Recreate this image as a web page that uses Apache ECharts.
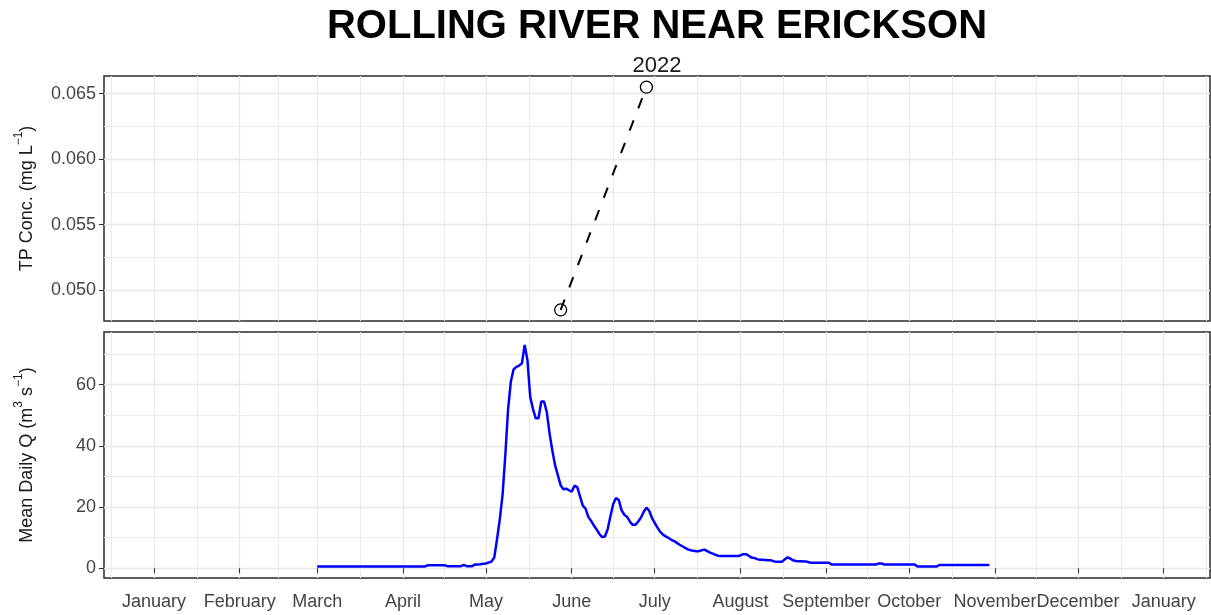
<!DOCTYPE html>
<html>
<head>
<meta charset="utf-8">
<script src="https://cdn.jsdelivr.net/npm/echarts@6/dist/echarts.min.js"></script>
<style>
  html, body { margin: 0; padding: 0; background: #fff; }
  #chart { width: 1211px; height: 615px; }
</style>
</head>
<body>
<div id="chart"></div>
<script>
// x axis: month ticks and their labels
const monthTicks = ['2022-01-01', '2022-02-01', '2022-03-01', '2022-04-01', '2022-05-01', '2022-06-01',
  '2022-07-01', '2022-08-01', '2022-09-01', '2022-10-01', '2022-11-01', '2022-12-01', '2023-01-01']
const monthLabels = ['January', 'February', 'March', 'April', 'May', 'June',
  'July', 'August', 'September', 'October', 'November', 'December', 'January']

// top panel: TP samples
const tpDates = ['2022-05-28', '2022-06-28']
const tpValues = [0.0485, 0.0655]
const tpTicks = [0.050, 0.055, 0.060, 0.065]
const tpMinor = [0.0525, 0.0575, 0.0625]

// bottom panel: mean daily discharge, one value per day from flowStart
const flowStart = '2022-03-01'
const flowMar = [0.6, 0.6, 0.6, 0.6, 0.6, 0.6, 0.6, 0.6, 0.6, 0.6, 0.6, 0.6, 0.6, 0.6, 0.6, 0.6,
  0.6, 0.6, 0.6, 0.6, 0.6, 0.6, 0.6, 0.6, 0.6, 0.6, 0.6, 0.6, 0.6, 0.6, 0.6]
const flowApr = [0.6, 0.6, 0.6, 0.6, 0.6, 0.6, 0.6, 0.6, 0.6, 1.0, 1.0, 1.0, 1.0, 1.0, 1.0, 1.0,
  0.7, 0.7, 0.7, 0.7, 0.7, 0.7, 1.1, 0.7, 0.7, 0.7, 1.2, 1.2, 1.3, 1.5]
const flowMay = [1.6, 1.9, 2.2, 3.5, 9.5, 16, 24, 37, 52, 61, 65, 65.8, 66.2, 67, 73, 68,
  56, 52, 49, 49, 54.5, 54.5, 51, 44, 38.5, 33.6, 30.4, 27.1, 25.8, 26, 25.5]
const flowJun = [25, 27, 26.5, 23.5, 20.5, 19.5, 16.8, 15.5, 14, 12.7, 11.2, 10.2, 10.4, 12.8, 17,
  21, 23, 22.3, 19, 17.5, 16.8, 15.3, 14.2, 14.2, 15.2, 16.5, 18.4, 19.8, 18.8, 16.5]
const flowJul = [14.8, 13.3, 11.9, 11, 10.4, 9.9, 9.3, 8.9, 8.3, 7.7, 7.2, 6.7, 6.2, 5.9, 5.7, 5.6,
  5.6, 5.9, 6.1, 5.6, 5.1, 4.8, 4.4, 4.1, 4, 4, 4, 4, 4, 4, 4]
const flowAug = [4.2, 4.6, 4.6, 4.1, 3.5, 3.4, 3, 2.8, 2.8, 2.7, 2.6, 2.6, 2.3, 2.1, 2.1, 2.1,
  2.9, 3.6, 3.2, 2.6, 2.4, 2.3, 2.3, 2.2, 2.2, 1.9, 1.8, 1.8, 1.8, 1.8, 1.8]
const flowSep = [1.8, 1.8, 1.2, 1.2, 1.2, 1.2, 1.2, 1.2, 1.2, 1.2, 1.2, 1.2, 1.2, 1.2, 1.2, 1.2,
  1.2, 1.2, 1.2, 1.6, 1.6, 1.2, 1.2, 1.2, 1.2, 1.2, 1.2, 1.2, 1.2, 1.2]
const flowOct = [1.2, 1.2, 1.2, 0.6, 0.6, 0.6, 0.6, 0.6, 0.6, 0.6, 0.6, 1.1, 1.1, 1.1, 1.1, 1.1,
  1.1, 1.1, 1.1, 1.1, 1.1, 1.1, 1.1, 1.1, 1.1, 1.1, 1.1, 1.1, 1.1, 1.1]
const flowTicks = [0, 20, 40, 60]
const flowMinor = [10, 30, 50, 70]

const DAY = 86400000
function utc (s) {
  const p = s.split('-').map(Number)
  return Date.UTC(p[0], p[1] - 1, p[2])
}

const majorX = monthTicks.map(utc)
const minorX = [majorX[0] - (majorX[1] - majorX[0]) / 2]
for (let i = 0; i < majorX.length - 1; i++) minorX.push((majorX[i] + majorX[i + 1]) / 2)
minorX.push(majorX[majorX.length - 1] + (majorX[majorX.length - 1] - majorX[majorX.length - 2]) / 2)

const xMin = majorX[0] - 18.07 * DAY
const xMax = majorX[majorX.length - 1] + 16.73 * DAY

const tpData = tpDates.map((d, i) => [utc(d), tpValues[i]])
const flowValues = [].concat(flowMar, flowApr, flowMay, flowJun, flowJul, flowAug, flowSep, flowOct)
const flowData = flowValues.map((v, i) => [utc(flowStart) + i * DAY, v])

const FONT = 'Liberation Sans, Arial, sans-serif'
const gridLine = { show: true, lineStyle: { color: '#e8e8e8', width: 1.3 } }
const gridLineMinor = { show: true, lineStyle: { color: '#ebebeb', width: 1 } }
const tickStyle = { color: '#333', width: 1.1 }
const labelStyle = { fontFamily: FONT, fontSize: 18, color: '#444' }

function monthName (val) {
  let best = 0
  majorX.forEach((t, i) => { if (Math.abs(t - val) < Math.abs(majorX[best] - val)) best = i })
  return monthLabels[best]
}

function xMajor (gridIndex, withLabels) {
  return {
    type: 'value', gridIndex, min: xMin, max: xMax, position: 'bottom',
    axisLine: { show: false },
    axisTick: { show: withLabels, length: 5, lineStyle: tickStyle, customValues: majorX },
    axisLabel: { show: withLabels, margin: 15, ...labelStyle, customValues: majorX, formatter: monthName },
    splitLine: gridLine
  }
}
function xMinor (gridIndex) {
  return {
    type: 'value', gridIndex, min: xMin, max: xMax, position: 'top',
    axisLine: { show: false },
    axisTick: { show: false, customValues: minorX },
    axisLabel: { show: false, customValues: minorX },
    splitLine: gridLineMinor
  }
}
function yMajor (gridIndex, min, max, ticks, fmt, name) {
  return {
    type: 'value', gridIndex, min, max, position: 'left',
    axisLine: { show: false },
    axisTick: { show: true, length: 5, lineStyle: tickStyle, customValues: ticks },
    axisLabel: { ...labelStyle, margin: 8, customValues: ticks, formatter: fmt },
    splitLine: gridLine,
    name,
    nameLocation: 'middle',
    nameGap: 63,
    nameTextStyle: {
      rich: {
        b: { fontFamily: FONT, fontSize: 18, color: '#1a1a1a', lineHeight: 28, verticalAlign: 'middle' },
        sup: { fontFamily: FONT, fontSize: 12, color: '#1a1a1a', lineHeight: 12, verticalAlign: 'top' }
      }
    }
  }
}
function yMinor (gridIndex, min, max, ticks) {
  return {
    type: 'value', gridIndex, min, max, position: 'right',
    axisLine: { show: false },
    axisTick: { show: false, customValues: ticks },
    axisLabel: { show: false, customValues: ticks },
    splitLine: gridLineMinor
  }
}

const option = {
  animation: false,
  backgroundColor: '#fff',
  title: [
    {
      text: 'ROLLING RIVER NEAR ERICKSON', left: 657, top: 7, padding: 0, textAlign: 'center',
      textStyle: { fontFamily: FONT, fontSize: 40, fontWeight: 'bold', color: '#000' }
    },
    {
      text: '2022', left: 657, top: 55, padding: 0, textAlign: 'center',
      textStyle: { fontFamily: FONT, fontSize: 22, fontWeight: 'normal', color: '#1a1a1a' }
    }
  ],
  grid: [
    { left: 104, right: 1, top: 76, height: 245, show: true, borderColor: '#2b2b2b', borderWidth: 1.5, backgroundColor: '#fff' },
    { left: 104, right: 1, top: 332, height: 246, show: true, borderColor: '#2b2b2b', borderWidth: 1.5, backgroundColor: '#fff' }
  ],
  xAxis: [xMajor(0, false), xMinor(0), xMajor(1, true), xMinor(1)],
  yAxis: [
    yMajor(0, 0.04765, 0.06635, tpTicks, v => v.toFixed(3), '{b|TP Conc. (mg L}{sup|−1}{b|)}'),
    yMinor(0, 0.04765, 0.06635, tpMinor),
    yMajor(1, -3.17, 77.2, flowTicks, v => String(v), '{b|Mean Daily Q (m}{sup|3}{b| s}{sup|−1}{b|)}'),
    yMinor(1, -3.17, 77.2, flowMinor)
  ],
  series: [
    {
      name: 'TP', type: 'line', xAxisIndex: 0, yAxisIndex: 0, data: tpData,
      symbol: 'circle', symbolSize: 12,
      itemStyle: { color: 'rgba(0,0,0,0)', borderColor: '#000', borderWidth: 1.3 },
      lineStyle: { color: '#000', width: 2, type: [11, 13] }
    },
    {
      name: 'Q', type: 'line', xAxisIndex: 2, yAxisIndex: 2, data: flowData,
      showSymbol: false, symbol: 'none',
      lineStyle: { color: '#0000ff', width: 2.5 }
    }
  ]
}

const chart = echarts.init(document.getElementById('chart'))
chart.setOption(option)
</script>
</body>
</html>
